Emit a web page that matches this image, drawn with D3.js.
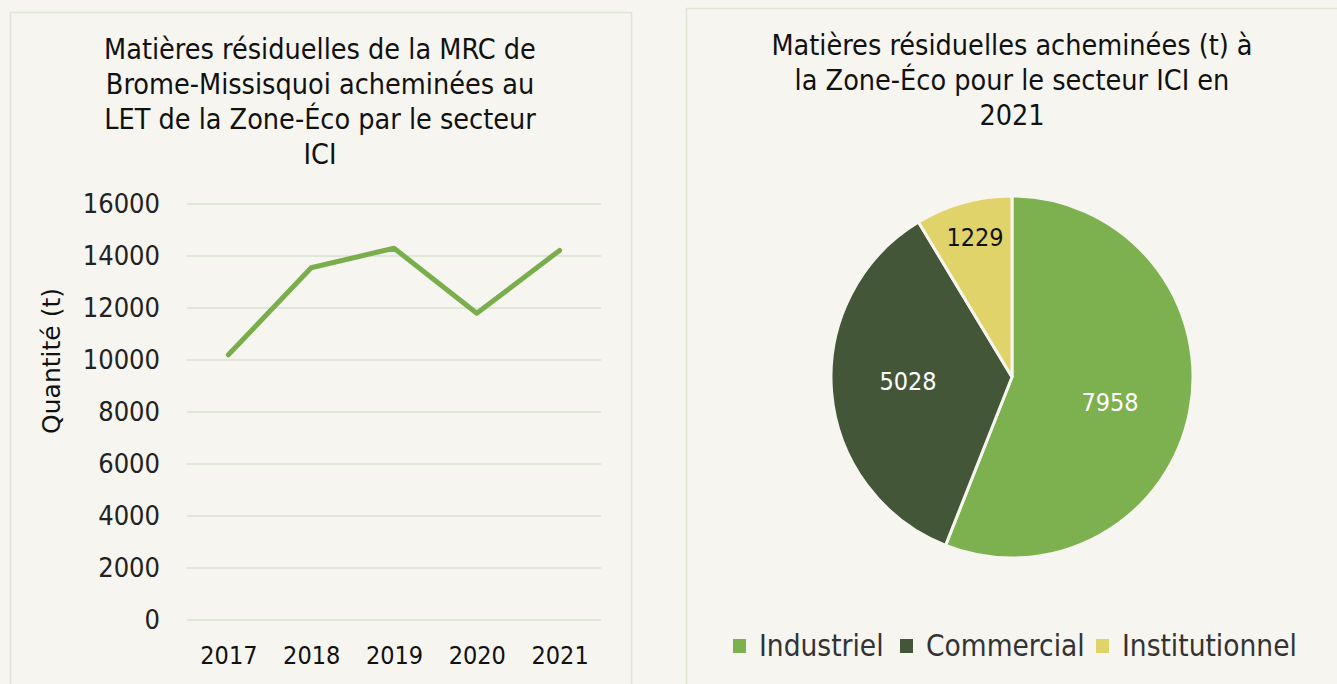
<!DOCTYPE html>
<html>
<head>
<meta charset="utf-8">
<script src="https://cdn.jsdelivr.net/npm/d3@7"></script>
<style>
  html, body { margin: 0; padding: 0; background: #f6f5f0; }
  svg { display: block; }
  text { font-family: "Liberation Sans Narrow", "DejaVu Sans Condensed", sans-serif; }
</style>
</head>
<body>
<svg id="chart" width="1337" height="684"></svg>
<script>
// line chart data
const years = ['2017', '2018', '2019', '2020', '2021'];
const tonnes = [10200, 13550, 14300, 11800, 14215];
const yTicks = [0, 2000, 4000, 6000, 8000, 10000, 12000, 14000, 16000];

// pie data (2021)
const sectors = ['Industriel', 'Commercial', 'Institutionnel'];
const sectorTonnes = [7958, 5028, 1229];
const sectorColors = ['#7db04e', '#445638', '#e0d36a'];

const leftTitle = ['Matières résiduelles de la MRC de', 'Brome-Missisquoi acheminées au',
                   'LET de la Zone-Éco par le secteur', 'ICI'];
const rightTitle = ['Matières résiduelles acheminées (t) à', 'la Zone-Éco pour le secteur ICI en', '2021'];

const svg = d3.select('#chart');
const bg = '#f6f5f0';

// panels
svg.append('rect').attr('x', 10.5).attr('y', 12.5).attr('width', 621).attr('height', 690)
  .attr('fill', bg).attr('stroke', '#dfe6d6').attr('stroke-width', 1.5);
svg.append('rect').attr('x', 686.5).attr('y', 8.5).attr('width', 670).attr('height', 700)
  .attr('fill', bg).attr('stroke', '#dfe6d6').attr('stroke-width', 1.5);

////////////////////
// 1. Line chart  //
////////////////////
const x = d3.scalePoint().domain(years).range([187, 601]).padding(0.5);
const y = d3.scaleLinear().domain([0, 16000]).range([620, 204]);

svg.append('g').selectAll('text')
  .data(leftTitle).enter().append('text')
    .attr('x', 320).attr('y', (d, i) => 59 + i * 35)
    .attr('text-anchor', 'middle')
    .attr('font-size', 28.5).attr('fill', '#111')
    .text(d => d);

// gridlines
svg.append('g').selectAll('line')
  .data(yTicks).enter().append('line')
    .attr('x1', 187).attr('x2', 601)
    .attr('y1', d => y(d)).attr('y2', d => y(d))
    .attr('stroke', '#e1e7d8').attr('stroke-width', 2);

const yAxis = svg.append('g').attr('transform', 'translate(187,0)')
  .call(d3.axisLeft(y).tickValues(yTicks).tickSize(0).tickPadding(27).tickFormat(d3.format('d')));
yAxis.select('.domain').remove();
yAxis.selectAll('text').attr('font-size', 27).attr('fill', '#222')
  .style('font-family', '"Liberation Sans Narrow", "DejaVu Sans Condensed", sans-serif');

const xAxis = svg.append('g').attr('transform', 'translate(0,620)')
  .call(d3.axisBottom(x).tickSize(0).tickPadding(26));
xAxis.select('.domain').remove();
xAxis.selectAll('text').attr('font-size', 25).attr('fill', '#111')
  .style('font-family', '"Liberation Sans Narrow", "DejaVu Sans Condensed", sans-serif');

svg.append('text')
  .attr('transform', 'translate(60,361) rotate(-90)')
  .attr('text-anchor', 'middle')
  .attr('font-size', 25).attr('fill', '#111')
  .style('font-family', '"DejaVu Sans", sans-serif')
  .text('Quantité (t)');

const line = d3.line().x((d, i) => x(years[i])).y(d => y(d));
svg.append('path').datum(tonnes)
  .attr('d', line)
  .attr('fill', 'none').attr('stroke', '#7aae4c').attr('stroke-width', 5)
  .attr('stroke-linejoin', 'round').attr('stroke-linecap', 'round');

////////////////////
// 2. Pie chart   //
////////////////////
svg.append('g').selectAll('text')
  .data(rightTitle).enter().append('text')
    .attr('x', 1012).attr('y', (d, i) => 55 + i * 35)
    .attr('text-anchor', 'middle')
    .attr('font-size', 28.5).attr('fill', '#111')
    .text(d => d);

const pieData = d3.pie().sort(null)(sectorTonnes);
const arc = d3.arc().innerRadius(0).outerRadius(181);
const pieG = svg.append('g').attr('transform', 'translate(1012,377)');
pieG.selectAll('path')
  .data(pieData).enter().append('path')
    .attr('d', arc)
    .attr('fill', (d, i) => sectorColors[i])
    .attr('stroke', bg).attr('stroke-width', 3).attr('stroke-linejoin', 'round');

const labelPos = [[98, 25], [-104, 4], [-37, -140]];
pieG.selectAll('text.val')
  .data(pieData).enter().append('text')
    .attr('class', 'val')
    .attr('x', (d, i) => labelPos[i][0]).attr('y', (d, i) => labelPos[i][1])
    .attr('dy', '0.35em').attr('text-anchor', 'middle')
    .attr('font-size', 25)
    .attr('fill', (d, i) => i === 2 ? '#111' : '#fff')
    .text(d => d.data);

// legend
const legendX = [733, 900, 1096];
const legend = svg.append('g').selectAll('g')
  .data(sectors).enter().append('g')
    .attr('transform', (d, i) => `translate(${legendX[i]},0)`);
legend.append('rect').attr('x', 0).attr('y', 639).attr('width', 13).attr('height', 14)
  .attr('fill', (d, i) => sectorColors[i]);
legend.append('text').attr('x', 26).attr('y', 646).attr('dy', '0.35em')
  .attr('font-size', 29.5).attr('fill', '#333')
  .text(d => d);
</script>
</body>
</html>
